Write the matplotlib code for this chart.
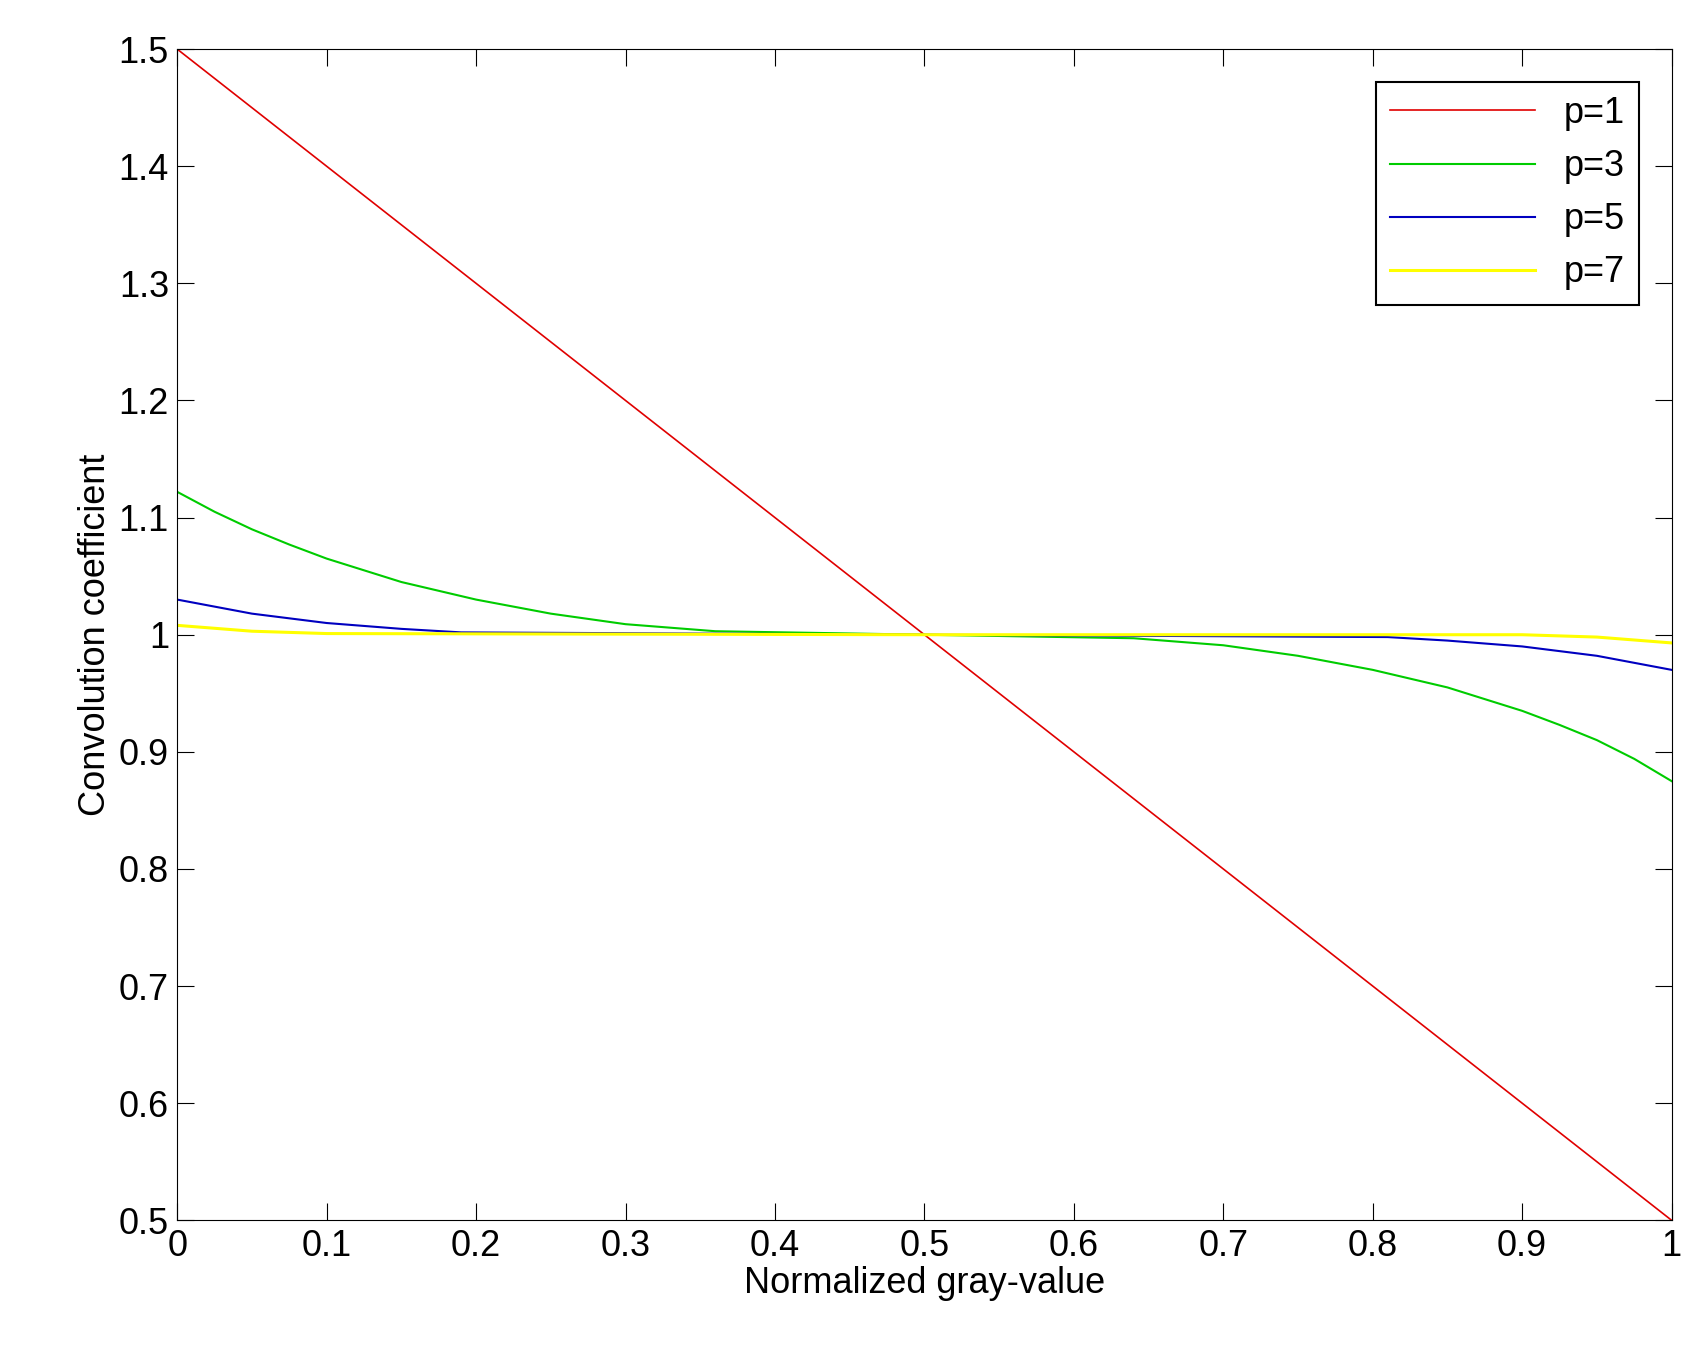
import matplotlib
matplotlib.use('Agg')
import matplotlib.pyplot as plt

# values
x1 = [0.0, 1.0]
p1 = [1.5, 0.5]

x3 = [0.0, 0.025, 0.05, 0.075, 0.1, 0.15, 0.2, 0.25, 0.3, 0.36, 0.5, 0.64, 0.7, 0.75, 0.8, 0.85, 0.9, 0.925, 0.95, 0.975, 1.0]
p3 = [1.122, 1.105, 1.09, 1.077, 1.065, 1.045, 1.03, 1.018, 1.009, 1.003, 1.0, 0.997, 0.991, 0.982, 0.97, 0.955, 0.935, 0.923, 0.91, 0.894, 0.875]

x5 = [0.0, 0.05, 0.1, 0.15, 0.19, 0.5, 0.81, 0.85, 0.9, 0.95, 1.0]
p5 = [1.03, 1.018, 1.01, 1.005, 1.002, 1.0, 0.998, 0.995, 0.99, 0.982, 0.97]

x7 = [0.0, 0.05, 0.1, 0.5, 0.9, 0.95, 1.0]
p7 = [1.008, 1.003, 1.001, 1.0, 1.0, 0.998, 0.993]

plt.rcParams['font.family'] = ['Liberation Sans', 'DejaVu Sans']
fig = plt.figure(figsize=(17.04, 13.65), dpi=100)
ax = fig.add_axes([0.104, 0.106, 0.877, 0.858])

ax.plot(x1, p1, color='#e00000', lw=1.2, label='p=1')
ax.plot(x3, p3, color='#00cc00', lw=1.5, label='p=3')
ax.plot(x5, p5, color='#0000c0', lw=1.5, label='p=5')
ax.plot(x7, p7, color='#ffff00', lw=2.2, label='p=7')

ax.set_xlim(0, 1)
ax.set_ylim(0.5, 1.5)
ax.set_xticks([i / 10 for i in range(11)])
ax.set_xticklabels(['0', '0.1', '0.2', '0.3', '0.4', '0.5', '0.6', '0.7', '0.8', '0.9', '1'])
ax.set_yticks([0.5 + i / 10 for i in range(11)])
ax.set_yticklabels(['0.5', '0.6', '0.7', '0.8', '0.9', '1', '1.1', '1.2', '1.3', '1.4', '1.5'])
ax.tick_params(direction='in', length=12, labelsize=26, top=True, right=True, pad=6)
ax.set_xlabel('Normalized gray-value', fontsize=26, labelpad=2)
ax.set_ylabel('Convolution coefficient', fontsize=26)

leg = ax.legend(loc='upper right', fontsize=26, fancybox=False, framealpha=1,
                edgecolor='black', handlelength=4, borderaxespad=0.9)
leg.get_frame().set_linewidth(1.5)

fig.savefig('out.png')
